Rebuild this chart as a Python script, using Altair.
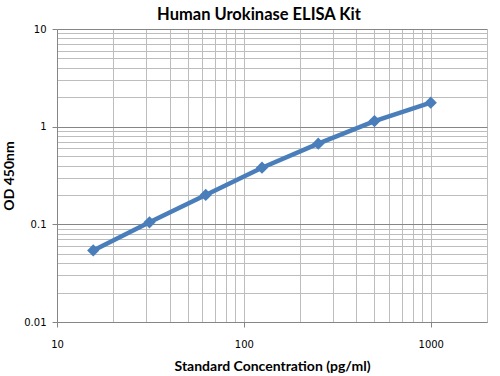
import altair as alt
import pandas as pd

conc = [15.625, 31.25, 62.5, 125, 250, 500, 1000]
od = [0.054, 0.105, 0.20, 0.38, 0.67, 1.14, 1.76]

x_grid = [10, 20, 30, 40, 50, 60, 70, 80, 90, 100, 200, 300, 400, 500, 600, 700, 800, 900, 1000, 2000]
y_grid = [0.01, 0.02, 0.03, 0.04, 0.05, 0.06, 0.07, 0.08, 0.09,
          0.1, 0.2, 0.3, 0.4, 0.5, 0.6, 0.7, 0.8, 0.9,
          1, 2, 3, 4, 5, 6, 7, 8, 9, 10]
x_major = [10, 100, 1000]
y_major = [0.01, 0.1, 1, 10]

df = pd.DataFrame({"conc": conc, "od": od})

FONT = "Lato"
TICKFONT = "DejaVu Sans"

xmaj = "indexof([10,100,1000], datum.value) >= 0"
ymaj = "indexof([0.01,0.1,1,10], datum.value) >= 0"

x_enc = alt.X(
    "conc:Q",
    scale=alt.Scale(type="log", domain=[10, 2000], nice=False),
    axis=alt.Axis(
        values=x_grid,
        title="Standard Concentration (pg/ml)",
        titleFont=FONT, titleFontSize=14, titleFontWeight="bold", titleColor="black",
        titlePadding=10,
        labelExpr="indexof([10,100,1000], datum.value) >= 0 ? datum.label : ''",
        format="d",
        labelFont=TICKFONT, labelFontSize=10, labelColor="black", labelPadding=12,
        grid=True, gridColor="#bdbdbd", gridWidth=1,
        tickColor={"condition": {"test": xmaj, "value": "#868686"}, "value": "transparent"},
        tickSize=5,
        domainColor="#868686",
        labelFlush=False,
        labelOverlap=False,
    ),
)

y_enc = alt.Y(
    "od:Q",
    scale=alt.Scale(type="log", domain=[0.01, 10], nice=False),
    axis=alt.Axis(
        values=y_grid,
        title="OD 450nm",
        titleFont=FONT, titleFontSize=14, titleFontWeight="bold", titleColor="black",
        titlePadding=7,
        labelExpr="indexof([0.01,0.1,1,10], datum.value) >= 0 ? datum.label : ''",
        format="~g",
        labelFont=TICKFONT, labelFontSize=10, labelColor="black", labelPadding=6,
        grid=True,
        gridColor={"condition": {"test": ymaj, "value": "#868686"}, "value": "#bdbdbd"},
        gridWidth=1,
        tickColor={"condition": {"test": ymaj, "value": "#868686"}, "value": "transparent"},
        tickSize=5,
        domainColor="#868686",
        labelFlush=False,
        labelOverlap=False,
    ),
)

line = alt.Chart(df).mark_line(color="#4a7ebb", strokeWidth=4.5).encode(x=x_enc, y=y_enc)
pts = alt.Chart(df).mark_point(shape="diamond", filled=True, color="#4a7ebb", size=150, opacity=1).encode(
    x="conc:Q", y="od:Q"
)

chart = (
    alt.layer(line, pts)
    .properties(
        width=430,
        height=293,
        title=alt.TitleParams(
            "Human Urokinase ELISA Kit",
            font=FONT, fontSize=16.5, fontWeight="bold", color="black",
            anchor="middle", frame="group", offset=1, dx=-13,
        ),
        autosize=alt.AutoSizeParams(type="none"),
        padding={"left": 57, "top": 29, "right": 13, "bottom": 54},
        background="white",
    )
    .configure_view(stroke=None)
)

chart.save("out.html", embed_options={"renderer": "svg", "actions": False})
